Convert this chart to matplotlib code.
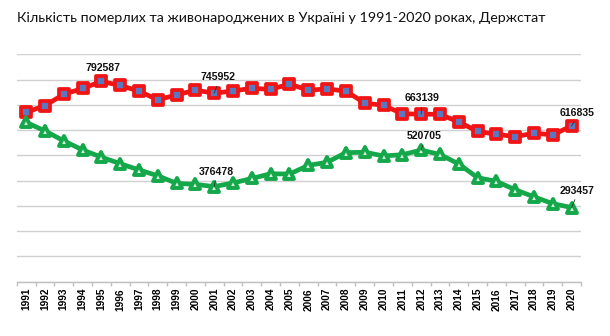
import matplotlib
matplotlib.use("Agg")
import matplotlib.pyplot as plt
from matplotlib.ticker import FixedLocator, NullFormatter
from matplotlib.markers import MarkerStyle

years = list(range(1991, 2021))
deaths = [669960, 697110, 741662, 764669, 792587, 776717, 754151, 719954, 739170, 758082,
          745952, 754911, 765408, 761263, 782189, 758093, 762877, 754460, 706739, 698235,
          664588, 663139, 662368, 632296, 594796, 583631, 574123, 587665, 581114, 616835]
births = [630813, 596785, 557467, 521545, 492861, 467211, 442581, 419238, 389208, 385126,
          376478, 390687, 408589, 427259, 426086, 460368, 472657, 510589, 512525, 497689,
          502595, 520705, 503657, 465882, 411781, 397037, 364039, 335874, 308817, 293457]
title = "Кількість померлих та живонароджених в Україні у 1991-2020 роках, Держстат"

death_labels = [1995, 2001, 2012, 2020]
birth_labels = [2001, 2012, 2020]

fig = plt.figure(figsize=(6.10, 3.36), dpi=100)
ax = fig.add_axes([0.0274, 0.1616, 0.9251, 0.6768])
x = list(range(len(years)))

ax.set_ylim(0, 900000)
ax.set_xlim(-0.5, len(years) - 0.5)
ax.set_yticks(range(0, 900001, 100000))
ax.yaxis.grid(True, color="#d0d0d0", lw=1.0)
ax.set_axisbelow(True)
ax.tick_params(axis="y", length=0, labelleft=False)
for s in ["top", "right", "left"]:
    ax.spines[s].set_visible(False)
ax.spines["bottom"].set_color("#c0c0c0")
ax.spines["bottom"].set_linewidth(1.0)

ax.set_xticks(x)
ax.set_xticklabels([str(y) for y in years], rotation=90, fontsize=7.3,
                   fontweight="bold", family="Liberation Sans")
ax.tick_params(axis="x", length=0, pad=4.5)
ax.xaxis.set_minor_locator(FixedLocator([i - 0.5 for i in range(len(years) + 1)]))
ax.xaxis.set_minor_formatter(NullFormatter())
ax.tick_params(axis="x", which="minor", length=3, color="#c0c0c0", width=1.0)

sq = MarkerStyle("s", joinstyle="round")
tri = MarkerStyle("^", joinstyle="round")
ax.plot(x, deaths, color="#f01414", lw=3.4, marker=sq, ms=7.0,
        mfc="#5a78c0", mec="#f01414", mew=2.7, solid_joinstyle="round",
        clip_on=False, zorder=3)
ax.plot(x, births, color="#14a84a", lw=3.4, marker=tri, ms=7.5,
        mfc="#d8eedc", mec="#14a84a", mew=2.8, solid_joinstyle="round",
        clip_on=False, zorder=3)

d_off = {1995: (2, 13), 2001: (4, 16), 2012: (1, 16), 2020: (5, 13)}
b_off = {2001: (2, 15), 2012: (3, 14), 2020: (5, 17)}

def label(yr, vals, off, leader=True):
    i = years.index(yr)
    ap = dict(arrowstyle="-", color="#303030", lw=0.6, shrinkA=1, shrinkB=0,
              relpos=(0.5, 0.0)) if leader else None
    ax.annotate(str(vals[i]), xy=(i, vals[i]), xytext=off, textcoords="offset pixels",
                ha="center", va="center", fontsize=7.6, fontweight="bold",
                family="Liberation Sans", color="#111111", arrowprops=ap,
                annotation_clip=False, zorder=5)

for yr in death_labels:
    label(yr, deaths, d_off[yr], leader=(yr != 1995))
for yr in birth_labels:
    label(yr, births, b_off[yr])

t = fig.text(17 / 610, 1 - 18.5 / 336, title, fontsize=12, family="Lato",
             ha="left", va="center", color="#111111")
fig.canvas.draw()
w = t.get_window_extent(renderer=fig.canvas.get_renderer()).width
t.set_fontsize(12 * 529.0 / w)

fig.savefig("out.png", dpi=100)
